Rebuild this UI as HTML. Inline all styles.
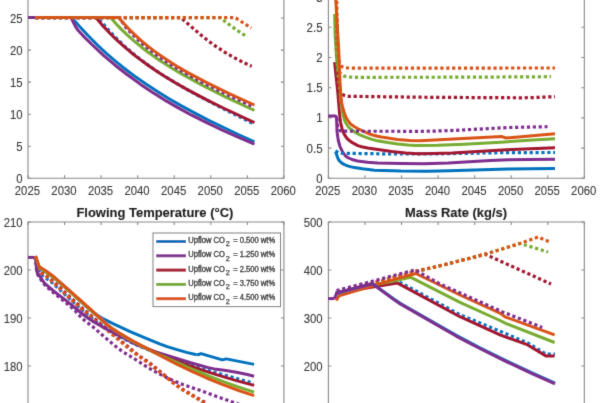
<!DOCTYPE html>
<html><head><meta charset="utf-8"><style>
html,body{margin:0;padding:0;background:#fff;width:600px;height:403px;overflow:hidden}
svg{display:block;font-family:"Liberation Sans",sans-serif}
</style></head><body>
<svg width="600" height="403" viewBox="0 0 600 403">
<defs><filter id="bl" x="0" y="0" width="600" height="403" filterUnits="userSpaceOnUse"><feConvolveMatrix order="3" kernelMatrix="0.0113 0.0838 0.0113 0.0838 0.6193 0.0838 0.0113 0.0838 0.0113" edgeMode="duplicate" preserveAlpha="false"/></filter></defs>
<rect width="600" height="403" fill="#ffffff"/>
<g filter="url(#bl)">
<path d="M28.0,178.3 L28.0,-15 L283.92,-15 L283.92,178.3 Z" fill="none" stroke="#8a8a8a" stroke-width="1.1"/>
<path d="M28.00,178.3v-3.0M28.00,-15v3.0M64.56,178.3v-3.0M64.56,-15v3.0M101.12,178.3v-3.0M101.12,-15v3.0M137.68,178.3v-3.0M137.68,-15v3.0M174.24,178.3v-3.0M174.24,-15v3.0M210.80,178.3v-3.0M210.80,-15v3.0M247.36,178.3v-3.0M247.36,-15v3.0M283.92,178.3v-3.0M283.92,-15v3.0M28.0,178.30h3.0M283.92,178.30h-3.0M28.0,146.25h3.0M283.92,146.25h-3.0M28.0,114.20h3.0M283.92,114.20h-3.0M28.0,82.15h3.0M283.92,82.15h-3.0M28.0,50.10h3.0M283.92,50.10h-3.0M28.0,18.05h3.0M283.92,18.05h-3.0" stroke="#8a8a8a" stroke-width="1.1"/>
<path d="M328.4,178.3 L328.4,-3 L584.3199999999999,-3 L584.3199999999999,178.3 Z" fill="none" stroke="#8a8a8a" stroke-width="1.1"/>
<path d="M328.40,178.3v-3.0M328.40,-3v3.0M364.96,178.3v-3.0M364.96,-3v3.0M401.52,178.3v-3.0M401.52,-3v3.0M438.08,178.3v-3.0M438.08,-3v3.0M474.64,178.3v-3.0M474.64,-3v3.0M511.20,178.3v-3.0M511.20,-3v3.0M547.76,178.3v-3.0M547.76,-3v3.0M584.32,178.3v-3.0M584.32,-3v3.0M328.4,178.30h3.0M584.3199999999999,178.30h-3.0M328.4,148.10h3.0M584.3199999999999,148.10h-3.0M328.4,117.90h3.0M584.3199999999999,117.90h-3.0M328.4,87.70h3.0M584.3199999999999,87.70h-3.0M328.4,57.50h3.0M584.3199999999999,57.50h-3.0M328.4,27.30h3.0M584.3199999999999,27.30h-3.0" stroke="#8a8a8a" stroke-width="1.1"/>
<path d="M28.0,470 L28.0,222.0 L283.92,222.0 L283.92,470 Z" fill="none" stroke="#8a8a8a" stroke-width="1.1"/>
<path d="M28.00,470v-3.0M28.00,222.0v3.0M64.56,470v-3.0M64.56,222.0v3.0M101.12,470v-3.0M101.12,222.0v3.0M137.68,470v-3.0M137.68,222.0v3.0M174.24,470v-3.0M174.24,222.0v3.0M210.80,470v-3.0M210.80,222.0v3.0M247.36,470v-3.0M247.36,222.0v3.0M283.92,470v-3.0M283.92,222.0v3.0M28.0,222.00h3.0M283.92,222.00h-3.0M28.0,270.00h3.0M283.92,270.00h-3.0M28.0,318.00h3.0M283.92,318.00h-3.0M28.0,366.00h3.0M283.92,366.00h-3.0" stroke="#8a8a8a" stroke-width="1.1"/>
<path d="M328.4,470 L328.4,222.0 L584.3199999999999,222.0 L584.3199999999999,470 Z" fill="none" stroke="#8a8a8a" stroke-width="1.1"/>
<path d="M328.40,470v-3.0M328.40,222.0v3.0M364.96,470v-3.0M364.96,222.0v3.0M401.52,470v-3.0M401.52,222.0v3.0M438.08,470v-3.0M438.08,222.0v3.0M474.64,470v-3.0M474.64,222.0v3.0M511.20,470v-3.0M511.20,222.0v3.0M547.76,470v-3.0M547.76,222.0v3.0M584.32,470v-3.0M584.32,222.0v3.0M328.4,222.00h3.0M584.3199999999999,222.00h-3.0M328.4,270.00h3.0M584.3199999999999,270.00h-3.0M328.4,318.00h3.0M584.3199999999999,318.00h-3.0M328.4,366.00h3.0M584.3199999999999,366.00h-3.0" stroke="#8a8a8a" stroke-width="1.1"/>
<text x="27.40" y="194.80" font-size="12" text-anchor="middle" font-weight="normal" fill="#3a3a3a" stroke="#3a3a3a" stroke-width="0.1" textLength="25.2" lengthAdjust="spacingAndGlyphs">2025</text>
<text x="327.80" y="194.80" font-size="12" text-anchor="middle" font-weight="normal" fill="#3a3a3a" stroke="#3a3a3a" stroke-width="0.1" textLength="25.2" lengthAdjust="spacingAndGlyphs">2025</text>
<text x="63.96" y="194.80" font-size="12" text-anchor="middle" font-weight="normal" fill="#3a3a3a" stroke="#3a3a3a" stroke-width="0.1" textLength="25.2" lengthAdjust="spacingAndGlyphs">2030</text>
<text x="364.36" y="194.80" font-size="12" text-anchor="middle" font-weight="normal" fill="#3a3a3a" stroke="#3a3a3a" stroke-width="0.1" textLength="25.2" lengthAdjust="spacingAndGlyphs">2030</text>
<text x="100.52" y="194.80" font-size="12" text-anchor="middle" font-weight="normal" fill="#3a3a3a" stroke="#3a3a3a" stroke-width="0.1" textLength="25.2" lengthAdjust="spacingAndGlyphs">2035</text>
<text x="400.92" y="194.80" font-size="12" text-anchor="middle" font-weight="normal" fill="#3a3a3a" stroke="#3a3a3a" stroke-width="0.1" textLength="25.2" lengthAdjust="spacingAndGlyphs">2035</text>
<text x="137.08" y="194.80" font-size="12" text-anchor="middle" font-weight="normal" fill="#3a3a3a" stroke="#3a3a3a" stroke-width="0.1" textLength="25.2" lengthAdjust="spacingAndGlyphs">2040</text>
<text x="437.48" y="194.80" font-size="12" text-anchor="middle" font-weight="normal" fill="#3a3a3a" stroke="#3a3a3a" stroke-width="0.1" textLength="25.2" lengthAdjust="spacingAndGlyphs">2040</text>
<text x="173.64" y="194.80" font-size="12" text-anchor="middle" font-weight="normal" fill="#3a3a3a" stroke="#3a3a3a" stroke-width="0.1" textLength="25.2" lengthAdjust="spacingAndGlyphs">2045</text>
<text x="474.04" y="194.80" font-size="12" text-anchor="middle" font-weight="normal" fill="#3a3a3a" stroke="#3a3a3a" stroke-width="0.1" textLength="25.2" lengthAdjust="spacingAndGlyphs">2045</text>
<text x="210.20" y="194.80" font-size="12" text-anchor="middle" font-weight="normal" fill="#3a3a3a" stroke="#3a3a3a" stroke-width="0.1" textLength="25.2" lengthAdjust="spacingAndGlyphs">2050</text>
<text x="510.60" y="194.80" font-size="12" text-anchor="middle" font-weight="normal" fill="#3a3a3a" stroke="#3a3a3a" stroke-width="0.1" textLength="25.2" lengthAdjust="spacingAndGlyphs">2050</text>
<text x="246.76" y="194.80" font-size="12" text-anchor="middle" font-weight="normal" fill="#3a3a3a" stroke="#3a3a3a" stroke-width="0.1" textLength="25.2" lengthAdjust="spacingAndGlyphs">2055</text>
<text x="547.16" y="194.80" font-size="12" text-anchor="middle" font-weight="normal" fill="#3a3a3a" stroke="#3a3a3a" stroke-width="0.1" textLength="25.2" lengthAdjust="spacingAndGlyphs">2055</text>
<text x="283.32" y="194.80" font-size="12" text-anchor="middle" font-weight="normal" fill="#3a3a3a" stroke="#3a3a3a" stroke-width="0.1" textLength="25.2" lengthAdjust="spacingAndGlyphs">2060</text>
<text x="583.72" y="194.80" font-size="12" text-anchor="middle" font-weight="normal" fill="#3a3a3a" stroke="#3a3a3a" stroke-width="0.1" textLength="25.2" lengthAdjust="spacingAndGlyphs">2060</text>
<text x="22.60" y="182.80" font-size="12" text-anchor="end" font-weight="normal" fill="#3a3a3a" stroke="#3a3a3a" stroke-width="0.1" textLength="6.3" lengthAdjust="spacingAndGlyphs">0</text>
<text x="22.60" y="150.75" font-size="12" text-anchor="end" font-weight="normal" fill="#3a3a3a" stroke="#3a3a3a" stroke-width="0.1" textLength="6.3" lengthAdjust="spacingAndGlyphs">5</text>
<text x="22.60" y="118.70" font-size="12" text-anchor="end" font-weight="normal" fill="#3a3a3a" stroke="#3a3a3a" stroke-width="0.1" textLength="12.6" lengthAdjust="spacingAndGlyphs">10</text>
<text x="22.60" y="86.65" font-size="12" text-anchor="end" font-weight="normal" fill="#3a3a3a" stroke="#3a3a3a" stroke-width="0.1" textLength="12.6" lengthAdjust="spacingAndGlyphs">15</text>
<text x="22.60" y="54.60" font-size="12" text-anchor="end" font-weight="normal" fill="#3a3a3a" stroke="#3a3a3a" stroke-width="0.1" textLength="12.6" lengthAdjust="spacingAndGlyphs">20</text>
<text x="22.60" y="22.55" font-size="12" text-anchor="end" font-weight="normal" fill="#3a3a3a" stroke="#3a3a3a" stroke-width="0.1" textLength="12.6" lengthAdjust="spacingAndGlyphs">25</text>
<text x="322.60" y="182.80" font-size="12" text-anchor="end" font-weight="normal" fill="#3a3a3a" stroke="#3a3a3a" stroke-width="0.1" textLength="6.3" lengthAdjust="spacingAndGlyphs">0</text>
<text x="322.60" y="152.60" font-size="12" text-anchor="end" font-weight="normal" fill="#3a3a3a" stroke="#3a3a3a" stroke-width="0.1" textLength="16.0" lengthAdjust="spacingAndGlyphs">0.5</text>
<text x="322.60" y="122.40" font-size="12" text-anchor="end" font-weight="normal" fill="#3a3a3a" stroke="#3a3a3a" stroke-width="0.1" textLength="6.3" lengthAdjust="spacingAndGlyphs">1</text>
<text x="322.60" y="92.20" font-size="12" text-anchor="end" font-weight="normal" fill="#3a3a3a" stroke="#3a3a3a" stroke-width="0.1" textLength="16.0" lengthAdjust="spacingAndGlyphs">1.5</text>
<text x="322.60" y="62.00" font-size="12" text-anchor="end" font-weight="normal" fill="#3a3a3a" stroke="#3a3a3a" stroke-width="0.1" textLength="6.3" lengthAdjust="spacingAndGlyphs">2</text>
<text x="322.60" y="31.80" font-size="12" text-anchor="end" font-weight="normal" fill="#3a3a3a" stroke="#3a3a3a" stroke-width="0.1" textLength="16.0" lengthAdjust="spacingAndGlyphs">2.5</text>
<text x="322.60" y="1.60" font-size="12" text-anchor="end" font-weight="normal" fill="#3a3a3a" stroke="#3a3a3a" stroke-width="0.1" textLength="6.3" lengthAdjust="spacingAndGlyphs">3</text>
<text x="22.60" y="226.50" font-size="12" text-anchor="end" font-weight="normal" fill="#3a3a3a" stroke="#3a3a3a" stroke-width="0.1" textLength="18.9" lengthAdjust="spacingAndGlyphs">210</text>
<text x="22.60" y="274.50" font-size="12" text-anchor="end" font-weight="normal" fill="#3a3a3a" stroke="#3a3a3a" stroke-width="0.1" textLength="18.9" lengthAdjust="spacingAndGlyphs">200</text>
<text x="22.60" y="322.50" font-size="12" text-anchor="end" font-weight="normal" fill="#3a3a3a" stroke="#3a3a3a" stroke-width="0.1" textLength="18.9" lengthAdjust="spacingAndGlyphs">190</text>
<text x="22.60" y="370.50" font-size="12" text-anchor="end" font-weight="normal" fill="#3a3a3a" stroke="#3a3a3a" stroke-width="0.1" textLength="18.9" lengthAdjust="spacingAndGlyphs">180</text>
<text x="322.60" y="226.50" font-size="12" text-anchor="end" font-weight="normal" fill="#3a3a3a" stroke="#3a3a3a" stroke-width="0.1" textLength="18.9" lengthAdjust="spacingAndGlyphs">500</text>
<text x="322.60" y="274.50" font-size="12" text-anchor="end" font-weight="normal" fill="#3a3a3a" stroke="#3a3a3a" stroke-width="0.1" textLength="18.9" lengthAdjust="spacingAndGlyphs">400</text>
<text x="322.60" y="322.50" font-size="12" text-anchor="end" font-weight="normal" fill="#3a3a3a" stroke="#3a3a3a" stroke-width="0.1" textLength="18.9" lengthAdjust="spacingAndGlyphs">300</text>
<text x="322.60" y="370.50" font-size="12" text-anchor="end" font-weight="normal" fill="#3a3a3a" stroke="#3a3a3a" stroke-width="0.1" textLength="18.9" lengthAdjust="spacingAndGlyphs">200</text>
<text x="154.90" y="216.80" font-size="13" text-anchor="middle" font-weight="bold" fill="#1e1e1e" stroke="#1e1e1e" stroke-width="0.1" textLength="157" lengthAdjust="spacingAndGlyphs">Flowing Temperature (°C)</text>
<text x="456.00" y="217.00" font-size="13" text-anchor="middle" font-weight="bold" fill="#1e1e1e" stroke="#1e1e1e" stroke-width="0.1" textLength="102" lengthAdjust="spacingAndGlyphs">Mass Rate (kg/s)</text>
<g>
<path d="M35.3,17.6 L72.0,17.6 L78.9,25.7 L88.2,35.8 L97.4,45.1 L106.6,53.6 L115.9,61.6 L125.1,69.0 L134.3,76.0 L145.9,84.1 L157.4,91.6 L169.0,98.7 L180.5,105.4 L194.4,112.9 L208.2,120.1 L222.1,126.9 L238.2,134.5 L254.4,141.8" fill="none" stroke="#0072BD" stroke-width="3.0" stroke-linejoin="round"/>
<path d="M28.0,17.6 L71.0,17.6 L75.6,26.7 L78.0,30.3 L84.9,37.6 L91.9,44.5 L103.5,55.3 L115.1,65.2 L126.7,74.3 L140.6,84.4 L152.3,92.2 L166.2,100.9 L177.8,107.6 L191.7,115.2 L205.6,122.2 L221.9,130.0 L238.1,137.2 L254.4,144.1" fill="none" stroke="#7E2F8E" stroke-width="3.0" stroke-linejoin="round"/>
<path d="M35.3,17.6 L97.0,17.6 L103.0,23.6 L109.0,30.5 L114.9,36.8 L124.9,46.4 L130.9,51.6 L138.8,58.1 L146.8,64.1 L154.8,69.7 L162.7,75.0 L172.7,81.2 L182.7,87.1 L194.6,93.8 L220.5,107.4 L254.4,124.2" fill="none" stroke="#0072BD" stroke-width="3.2" stroke-linejoin="round" stroke-dasharray="3.2 2.7"/>
<path d="M35.3,17.6 L95.8,17.6 L101.8,24.6 L109.9,33.2 L115.9,39.1 L123.9,46.4 L131.9,53.2 L140.0,59.4 L148.0,65.3 L156.0,70.8 L166.1,77.2 L176.1,83.2 L186.1,88.9 L198.2,95.4 L210.2,101.6 L224.3,108.5 L254.4,122.6" fill="none" stroke="#A2142F" stroke-width="3.0" stroke-linejoin="round"/>
<path d="M35.3,17.6 L110.5,17.6 L116.0,23.7 L121.4,29.4 L126.9,34.7 L134.2,41.2 L141.5,47.2 L148.8,52.7 L156.0,57.9 L163.3,62.8 L172.4,68.5 L181.5,73.9 L201.6,84.9 L225.3,96.8 L254.4,110.5" fill="none" stroke="#77AC30" stroke-width="3.0" stroke-linejoin="round"/>
<path d="M35.3,17.6 L119.5,17.6 L124.6,25.7 L126.3,28.0 L131.4,33.5 L136.5,38.5 L143.3,44.7 L150.1,50.3 L157.0,55.4 L165.5,61.3 L174.0,66.7 L182.5,71.8 L201.2,82.0 L225.1,93.8 L254.0,107.2" fill="none" stroke="#7E2F8E" stroke-width="3.2" stroke-linejoin="round" stroke-dasharray="3.2 2.7"/>
<path d="M35.3,17.6 L118.6,17.6 L123.8,23.5 L128.9,29.0 L134.1,34.1 L140.9,40.4 L147.8,46.1 L154.7,51.4 L161.6,56.3 L170.2,62.0 L178.8,67.4 L187.4,72.4 L206.3,82.4 L228.6,93.3 L254.4,105.0" fill="none" stroke="#D95319" stroke-width="3.0" stroke-linejoin="round"/>
<path d="M35.3,17.6 L180.8,17.6 L181.5,17.9 L184.0,20.5 L201.6,35.6 L209.6,41.9 L216.2,46.6 L224.6,52.1 L233.4,57.2 L242.4,61.9 L251.7,66.3" fill="none" stroke="#A2142F" stroke-width="3.2" stroke-linejoin="round" stroke-dasharray="3.2 2.7"/>
<path d="M35.3,17.6 L220.0,17.6 L221.1,18.1 L223.0,20.0 L234.0,28.1 L240.7,32.7 L247.5,37.0" fill="none" stroke="#77AC30" stroke-width="3.2" stroke-linejoin="round" stroke-dasharray="3.2 2.7"/>
<path d="M35.3,17.6 L235.0,17.6 L235.9,17.9 L238.0,19.5 L251.2,28.0" fill="none" stroke="#D95319" stroke-width="3.2" stroke-linejoin="round" stroke-dasharray="3.2 2.7"/>
<path d="M328.0,116.1 L335.4,116.1 L335.9,116.4 L336.6,118.0 L337.0,130.5 L337.4,134.6 L338.3,140.5 L340.0,146.5 L341.6,150.1 L343.0,152.5 L344.9,155.2 L346.3,156.6 L347.9,157.7 L352.0,159.5 L357.5,161.0 L367.5,162.3 L377.6,163.0 L401.8,163.6 L424.0,163.7 L448.2,163.0 L490.5,160.6 L508.6,159.8 L528.8,159.4 L555.0,159.2" fill="none" stroke="#7E2F8E" stroke-width="3.0" stroke-linejoin="round"/>
<path d="M335.6,151.8 L337.6,157.6 L338.5,159.5 L339.6,161.0 L341.1,162.5 L342.8,163.7 L344.5,164.6 L348.3,166.1 L354.3,167.6 L362.3,168.8 L374.4,170.2 L400.8,171.1 L427.2,171.3 L449.5,170.8 L508.3,168.9 L555.0,168.5" fill="none" stroke="#0072BD" stroke-width="3.0" stroke-linejoin="round"/>
<path d="M335.4,151.0 L338.5,152.7 L341.0,153.2 L385.3,153.9 L429.8,154.0 L504.5,152.6 L555.0,152.5" fill="none" stroke="#0072BD" stroke-width="3.2" stroke-linejoin="round" stroke-dasharray="3.2 2.7"/>
<path d="M334.6,62.2 L337.8,92.3 L339.8,116.5 L340.6,122.5 L342.0,128.4 L343.3,132.2 L344.2,134.1 L346.4,137.6 L347.6,139.0 L350.7,141.6 L354.2,143.7 L357.8,145.6 L361.6,146.7 L367.6,148.0 L391.6,151.4 L405.7,153.0 L417.8,153.7 L433.9,153.5 L452.1,152.9 L512.6,149.5 L555.0,147.7" fill="none" stroke="#A2142F" stroke-width="3.0" stroke-linejoin="round"/>
<path d="M334.6,14.0 L335.1,34.3 L336.6,58.5 L338.1,74.6 L340.2,94.6 L341.3,104.6 L342.6,112.7 L343.5,116.6 L344.6,120.4 L345.4,122.3 L347.6,125.8 L348.8,127.4 L350.2,128.7 L356.9,133.4 L360.5,135.2 L366.1,137.4 L371.9,139.4 L375.8,140.4 L387.7,142.5 L397.7,143.9 L407.8,145.0 L415.9,145.4 L438.0,145.3 L464.3,144.3 L505.0,142.0 L528.8,140.2 L555.0,138.7" fill="none" stroke="#77AC30" stroke-width="3.0" stroke-linejoin="round"/>
<path d="M336.5,-5.0 L336.6,21.0 L336.9,40.3 L337.3,56.3 L338.1,71.1 L339.8,91.4 L339.9,91.9 L341.3,93.6 L342.9,94.7 L344.8,95.6 L346.8,96.2 L348.8,96.3 L427.6,97.3 L522.7,97.8 L534.8,97.5 L555.0,96.7" fill="none" stroke="#A2142F" stroke-width="3.2" stroke-linejoin="round" stroke-dasharray="3.2 2.7"/>
<path d="M336.5,-5.0 L336.8,33.6 L337.8,65.6 L338.1,67.6 L339.2,71.5 L340.3,73.2 L341.5,74.5 L343.4,75.7 L345.3,76.4 L349.3,77.0 L357.0,77.3 L468.3,77.2 L551.0,76.7" fill="none" stroke="#77AC30" stroke-width="3.2" stroke-linejoin="round" stroke-dasharray="3.2 2.7"/>
<path d="M335.5,-5.0 L338.7,49.9 L340.0,82.6 L341.0,96.7 L341.7,102.7 L342.5,106.8 L344.9,114.6 L346.5,118.3 L348.8,121.8 L350.0,123.3 L351.5,124.7 L354.9,127.0 L358.5,129.0 L365.9,132.4 L369.7,134.0 L373.6,135.3 L377.5,136.3 L381.4,137.0 L397.3,139.4 L409.6,140.5 L420.0,140.8" fill="none" stroke="#D95319" stroke-width="3.0" stroke-linejoin="round"/>
<path d="M420.0,140.8 L502.0,136.6 L506.0,138.0 L555.0,133.8" fill="none" stroke="#D95319" stroke-width="3.0" stroke-linejoin="round"/>
<path d="M336.5,-5.0 L336.6,11.3 L337.0,27.5 L337.8,45.7 L338.6,57.8 L339.5,62.5 L339.9,63.7 L340.9,65.6 L342.3,66.8 L344.3,67.6 L348.3,68.0 L352.0,68.1 L555.0,68.0" fill="none" stroke="#D95319" stroke-width="3.2" stroke-linejoin="round" stroke-dasharray="3.2 2.7"/>
<path d="M336.8,118.0 L337.0,122.5 L338.0,128.1 L339.1,130.0 L341.0,131.2 L420.0,131.3 L432.0,131.2 L454.3,130.4 L509.0,127.5 L547.5,126.7" fill="none" stroke="#7E2F8E" stroke-width="3.2" stroke-linejoin="round" stroke-dasharray="3.2 2.7"/>
<path d="M28.0,257.4 L34.2,257.4" fill="none" stroke="#7E2F8E" stroke-width="3.0" stroke-linejoin="round"/>
<path d="M35.4,258.0 L35.7,260.1 L36.6,264.1 L38.5,269.8 L40.5,273.4 L41.7,274.9 L43.1,276.2 L51.5,282.2 L75.5,304.2 L82.2,310.0 L91.0,317.3 L97.4,322.2 L105.7,328.1 L112.5,332.6 L117.7,335.7 L128.5,341.2 L141.4,347.0 L156.6,353.0 L177.6,360.7 L191.1,365.2 L206.6,370.1 L253.5,383.2" fill="none" stroke="#0072BD" stroke-width="3.2" stroke-linejoin="round" stroke-dasharray="3.2 2.7"/>
<path d="M35.4,256.0 L36.7,272.2 L37.4,274.0 L38.5,275.8 L41.8,281.0 L44.2,284.2 L47.0,287.1 L53.2,292.5 L64.3,301.3 L72.0,307.9 L75.0,310.7 L80.5,316.6 L83.4,319.4 L94.6,328.2 L103.7,336.3 L117.7,348.0 L122.4,351.5 L134.8,359.0 L146.6,366.7 L153.6,370.8 L162.6,375.6 L173.6,380.8 L183.0,384.6 L198.4,389.8 L223.1,398.8 L250.0,408.0" fill="none" stroke="#7E2F8E" stroke-width="3.2" stroke-linejoin="round" stroke-dasharray="3.2 2.7"/>
<path d="M35.4,256.0 L35.8,260.3 L36.7,264.2 L38.0,268.0 L38.9,269.7 L40.2,271.3 L41.7,272.7 L46.2,275.4 L48.4,277.2 L60.6,287.9 L66.3,293.7 L82.9,308.7 L99.0,322.5 L110.8,332.2 L134.1,351.9 L140.5,356.8 L147.0,361.0 L150.6,363.7 L175.7,384.3 L180.0,387.5 L184.0,390.1 L205.0,402.5" fill="none" stroke="#A2142F" stroke-width="3.2" stroke-linejoin="round" stroke-dasharray="3.2 2.7"/>
<path d="M35.4,256.0 L35.8,260.2 L37.3,266.0 L38.7,269.7 L39.8,271.5 L41.0,273.1 L42.5,274.3 L46.1,276.3 L49.2,278.9 L58.2,287.1 L65.3,294.2 L80.2,307.9 L83.3,310.5 L88.6,314.5 L99.0,323.9 L109.7,332.3 L129.7,349.3 L139.3,356.7 L147.0,362.0 L150.8,364.9 L175.9,385.3 L182.5,389.9 L196.4,398.1 L205.0,403.5" fill="none" stroke="#D95319" stroke-width="3.2" stroke-linejoin="round" stroke-dasharray="3.2 2.7"/>
<path d="M34.2,257.4 L35.4,259.1 L35.8,260.0 L36.7,271.0 L37.4,272.9 L43.2,281.4 L45.9,284.4 L53.6,291.0 L66.5,300.9 L80.6,312.5 L85.4,316.3 L90.0,319.5 L93.8,321.9 L106.2,329.0 L122.0,337.0 L134.9,344.0 L144.3,347.9 L155.8,351.9 L190.7,362.8 L208.3,367.6 L214.2,368.9 L224.3,370.2 L236.3,372.2 L246.2,374.3 L254.1,376.2" fill="none" stroke="#7E2F8E" stroke-width="3.0" stroke-linejoin="round"/>
<path d="M35.4,256.2 L39.2,267.5 L41.0,269.0" fill="none" stroke="#0072BD" stroke-width="3.0" stroke-linejoin="round"/>
<path d="M39.2,267.5 L46.2,271.7 L52.8,276.3 L68.2,289.6 L83.1,303.6 L89.1,309.0 L93.8,312.8 L97.1,315.1 L103.9,319.2 L113.0,323.7 L129.6,331.4 L140.8,336.2 L159.6,343.8 L167.2,346.6 L176.9,349.6 L186.6,352.4 L196.5,354.8" fill="none" stroke="#0072BD" stroke-width="3.0" stroke-linejoin="round"/>
<path d="M196.5,354.8 L198.5,354.6 L201.0,353.6 L222.4,359.9 L226.2,358.9 L254.1,364.4" fill="none" stroke="#0072BD" stroke-width="3.0" stroke-linejoin="round"/>
<path d="M35.4,256.2 L39.2,267.5 L41.0,269.0" fill="none" stroke="#A2142F" stroke-width="3.0" stroke-linejoin="round"/>
<path d="M39.2,267.5 L47.7,273.0 L55.7,279.2 L77.0,297.9 L104.2,322.2 L108.8,326.1 L113.7,329.6 L118.7,333.0 L130.9,340.3 L141.7,345.8 L158.2,353.6 L169.3,358.3 L180.7,362.7 L197.9,368.7 L217.1,374.9 L236.5,380.6 L254.1,385.4" fill="none" stroke="#A2142F" stroke-width="3.0" stroke-linejoin="round"/>
<path d="M35.4,256.2 L39.2,267.5 L41.0,269.0" fill="none" stroke="#77AC30" stroke-width="3.0" stroke-linejoin="round"/>
<path d="M39.2,267.5 L47.7,273.0 L55.7,279.2 L107.3,324.9 L112.1,328.5 L117.1,332.0 L129.3,339.4 L139.9,345.3 L152.6,351.6 L169.2,359.1 L195.2,370.5 L210.2,376.6 L223.4,381.7 L238.7,387.1 L254.1,392.2" fill="none" stroke="#77AC30" stroke-width="3.0" stroke-linejoin="round"/>
<path d="M35.4,256.2 L39.2,266.7 L41.0,268.3" fill="none" stroke="#D95319" stroke-width="3.0" stroke-linejoin="round"/>
<path d="M39.2,266.7 L47.8,272.1 L54.2,277.0 L81.5,301.2 L95.0,313.4 L106.9,324.5 L111.6,328.2 L118.4,332.6 L132.5,340.7 L164.6,358.0 L177.2,364.4 L191.9,371.4 L206.6,378.0 L221.6,384.1 L238.7,390.5 L254.1,395.6" fill="none" stroke="#D95319" stroke-width="3.0" stroke-linejoin="round"/>
<path d="M328.0,298.6 L334.4,298.6" fill="none" stroke="#7E2F8E" stroke-width="3.0" stroke-linejoin="round"/>
<path d="M336.0,293.5 L372.0,283.3 L416.0,271.3 L440.0,265.8 L470.0,258.2 L485.0,254.2 L551.0,284.0" fill="none" stroke="#A2142F" stroke-width="3.2" stroke-linejoin="round" stroke-dasharray="3.2 2.7"/>
<path d="M336.0,293.5 L372.0,283.3 L416.0,271.3 L440.0,265.8 L470.0,258.2 L485.0,254.2 L520.0,243.5 L548.0,252.0" fill="none" stroke="#77AC30" stroke-width="3.2" stroke-linejoin="round" stroke-dasharray="3.2 2.7"/>
<path d="M336.0,293.5 L372.0,283.3 L416.0,271.3 L440.0,265.8 L470.0,258.2 L485.0,254.2 L520.0,243.5 L538.0,237.0 L550.0,242.0" fill="none" stroke="#D95319" stroke-width="3.2" stroke-linejoin="round" stroke-dasharray="3.2 2.7"/>
<path d="M336.0,293.0 L397.2,280.9 L460.0,314.7 L527.3,342.7 L545.9,354.0 L555.0,354.0" fill="none" stroke="#0072BD" stroke-width="3.2" stroke-linejoin="round" stroke-dasharray="3.2 2.7"/>
<path d="M336.0,293.0 L397.2,282.9 L460.0,316.7 L500.0,334.8 L527.3,344.7 L545.9,355.9 L554.6,355.9" fill="none" stroke="#A2142F" stroke-width="3.0" stroke-linejoin="round"/>
<path d="M336.0,293.0 L410.9,277.3 L460.0,302.4 L500.0,320.5 L506.2,323.6 L554.6,342.5" fill="none" stroke="#77AC30" stroke-width="3.0" stroke-linejoin="round"/>
<path d="M336.2,300.6 L339.0,295.7 L397.2,278.6 L415.8,273.5 L460.0,295.0 L500.0,313.1 L505.0,316.8 L554.6,334.8" fill="none" stroke="#D95319" stroke-width="3.0" stroke-linejoin="round"/>
<path d="M336.0,293.5 L372.6,283.6" fill="none" stroke="#0072BD" stroke-width="3.0" stroke-linejoin="round"/>
<path d="M372.6,283.6 L393.9,299.0 L400.6,303.5 L444.4,328.6 L456.8,335.6 L480.0,347.8 L505.4,360.3 L531.0,372.4 L555.0,383.0" fill="none" stroke="#0072BD" stroke-width="3.0" stroke-linejoin="round"/>
<path d="M334.4,298.6 L336.8,292.8 L372.3,283.8" fill="none" stroke="#7E2F8E" stroke-width="3.0" stroke-linejoin="round"/>
<path d="M372.3,283.8 L395.2,300.6 L400.2,303.9 L456.5,336.3 L479.8,348.5 L505.2,361.1 L530.9,373.2 L555.0,383.8" fill="none" stroke="#7E2F8E" stroke-width="3.0" stroke-linejoin="round"/>
<path d="M336.5,290.5 L372.4,281.3 L391.0,276.2 L415.0,270.0 L440.0,284.0 L502.5,311.9 L542.2,327.4" fill="none" stroke="#7E2F8E" stroke-width="3.2" stroke-linejoin="round" stroke-dasharray="3.2 2.7"/>
</g>
<rect x="153" y="233" width="127.5" height="73.6" fill="#fff" stroke="#7a7a7a" stroke-width="1"/>
<path d="M156.2,241.50 H186" stroke="#0072BD" stroke-width="3"/>
<text x="188.3" y="243.10" font-size="8.8" fill="#1a1a1a" stroke="#1a1a1a" stroke-width="0.3" textLength="36.5" lengthAdjust="spacingAndGlyphs">Upflow CO</text>
<text x="225.8" y="246.40" font-size="7.2" fill="#1a1a1a" stroke="#1a1a1a" stroke-width="0.25">2</text>
<text x="233.2" y="243.10" font-size="8.8" fill="#1a1a1a" stroke="#1a1a1a" stroke-width="0.3" textLength="42" lengthAdjust="spacingAndGlyphs">= 0.500 wt%</text>
<path d="M156.2,255.80 H186" stroke="#7E2F8E" stroke-width="3"/>
<text x="188.3" y="257.40" font-size="8.8" fill="#1a1a1a" stroke="#1a1a1a" stroke-width="0.3" textLength="36.5" lengthAdjust="spacingAndGlyphs">Upflow CO</text>
<text x="225.8" y="260.70" font-size="7.2" fill="#1a1a1a" stroke="#1a1a1a" stroke-width="0.25">2</text>
<text x="233.2" y="257.40" font-size="8.8" fill="#1a1a1a" stroke="#1a1a1a" stroke-width="0.3" textLength="42" lengthAdjust="spacingAndGlyphs">= 1.250 wt%</text>
<path d="M156.2,270.10 H186" stroke="#A2142F" stroke-width="3"/>
<text x="188.3" y="271.70" font-size="8.8" fill="#1a1a1a" stroke="#1a1a1a" stroke-width="0.3" textLength="36.5" lengthAdjust="spacingAndGlyphs">Upflow CO</text>
<text x="225.8" y="275.00" font-size="7.2" fill="#1a1a1a" stroke="#1a1a1a" stroke-width="0.25">2</text>
<text x="233.2" y="271.70" font-size="8.8" fill="#1a1a1a" stroke="#1a1a1a" stroke-width="0.3" textLength="42" lengthAdjust="spacingAndGlyphs">= 2.500 wt%</text>
<path d="M156.2,284.40 H186" stroke="#77AC30" stroke-width="3"/>
<text x="188.3" y="286.00" font-size="8.8" fill="#1a1a1a" stroke="#1a1a1a" stroke-width="0.3" textLength="36.5" lengthAdjust="spacingAndGlyphs">Upflow CO</text>
<text x="225.8" y="289.30" font-size="7.2" fill="#1a1a1a" stroke="#1a1a1a" stroke-width="0.25">2</text>
<text x="233.2" y="286.00" font-size="8.8" fill="#1a1a1a" stroke="#1a1a1a" stroke-width="0.3" textLength="42" lengthAdjust="spacingAndGlyphs">= 3.750 wt%</text>
<path d="M156.2,298.70 H186" stroke="#D95319" stroke-width="3"/>
<text x="188.3" y="300.30" font-size="8.8" fill="#1a1a1a" stroke="#1a1a1a" stroke-width="0.3" textLength="36.5" lengthAdjust="spacingAndGlyphs">Upflow CO</text>
<text x="225.8" y="303.60" font-size="7.2" fill="#1a1a1a" stroke="#1a1a1a" stroke-width="0.25">2</text>
<text x="233.2" y="300.30" font-size="8.8" fill="#1a1a1a" stroke="#1a1a1a" stroke-width="0.3" textLength="42" lengthAdjust="spacingAndGlyphs">= 4.500 wt%</text>
</g>
</svg>
</body></html>
